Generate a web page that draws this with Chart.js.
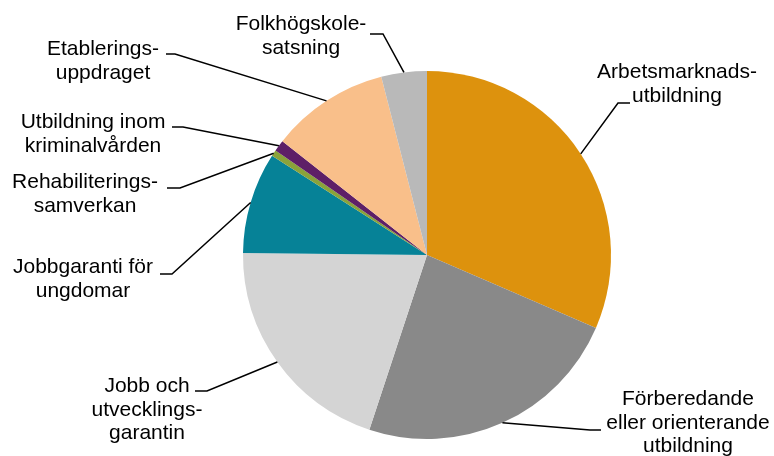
<!DOCTYPE html>
<html>
<head>
<meta charset="utf-8">
<script src="https://cdn.jsdelivr.net/npm/chart.js@4"></script>
<style>
  html, body { margin: 0; padding: 0; background: #fff; }
  #wrap { width: 774px; height: 456px; position: relative; }
</style>
</head>
<body>
<div id="wrap"><canvas id="pieChart"></canvas></div>
<script>
// kategorier (radbrutna som i originalet)
const categories = [
    ['Arbetsmarknads-', 'utbildning'],
    ['Förberedande', 'eller orienterande', 'utbildning'],
    ['Jobb och', 'utvecklings-', 'garantin'],
    ['Jobbgaranti för', 'ungdomar'],
    ['Rehabiliterings-', 'samverkan'],
    ['Utbildning inom', 'kriminalvården'],
    ['Etablerings-', 'uppdraget'],
    ['Folkhögskole-', 'satsning']
];

// andel (%)
const shares = [31.5, 23.6, 20.1, 8.9, 0.55, 1.0, 10.4, 4.0];

const sliceColors = ['#DD920D', '#898989', '#D4D4D4', '#068297', '#8AA33A', '#5E1F67', '#F9BF8A', '#B9B9B9'];

// var texten och brytpunkten för linjen ligger
const labelLayout = [
    { cx: 677, y: 78,  knee: [618, 103], end: [630, 103] },
    { cx: 688, y: 405, knee: [590, 430], end: [601, 430] },
    { cx: 147, y: 392, knee: [207, 391], end: [195, 391] },
    { cx: 83,  y: 273, knee: [172, 274], end: [160, 274] },
    { cx: 85,  y: 188, knee: [180, 188], end: [167, 188] },
    { cx: 93,  y: 128, knee: [183, 127], end: [172, 127] },
    { cx: 103, y: 55,  knee: [175, 54],  end: [166, 54] },
    { cx: 301, y: 30,  knee: [383, 34],  end: [370, 34] }
];

const leaderLabels = {
    id: 'leaderLabels',
    afterDraw(chart) {
        const ctx = chart.ctx;
        const arcs = chart.getDatasetMeta(0).data;
        ctx.save();
        ctx.font = '21px "Liberation Sans", Arial, sans-serif';
        ctx.fillStyle = '#000';
        ctx.strokeStyle = '#000';
        ctx.lineWidth = 1.5;
        ctx.textAlign = 'center';
        ctx.textBaseline = 'alphabetic';
        arcs.forEach((arc, i) => {
            const p = arc.getProps(['x', 'y', 'startAngle', 'endAngle', 'outerRadius'], true);
            const mid = (p.startAngle + p.endAngle) / 2;
            const ax = p.x + Math.cos(mid) * p.outerRadius;
            const ay = p.y + Math.sin(mid) * p.outerRadius;
            const lay = labelLayout[i];
            ctx.beginPath();
            ctx.moveTo(ax, ay);
            ctx.lineTo(lay.knee[0], lay.knee[1]);
            ctx.lineTo(lay.end[0], lay.end[1]);
            ctx.stroke();
            categories[i].forEach((line, j) => {
                ctx.fillText(line, lay.cx, lay.y + j * 23.5);
            });
        });
        ctx.restore();
    }
};

const ctx = document.getElementById('pieChart').getContext('2d');
const myChart = new Chart(ctx, {
    type: 'pie',
    data: {
        labels: categories,
        datasets: [{
            data: shares,
            backgroundColor: sliceColors,
            borderWidth: 0
        }]
    },
    options: {
        responsive: true,
        maintainAspectRatio: false,
        animation: false,
        layout: {
            padding: { top: 71, bottom: 17, left: 243, right: 163 }
        },
        plugins: {
            legend: { display: false },
            tooltip: { enabled: false }
        }
    },
    plugins: [leaderLabels]
});
</script>
</body>
</html>
